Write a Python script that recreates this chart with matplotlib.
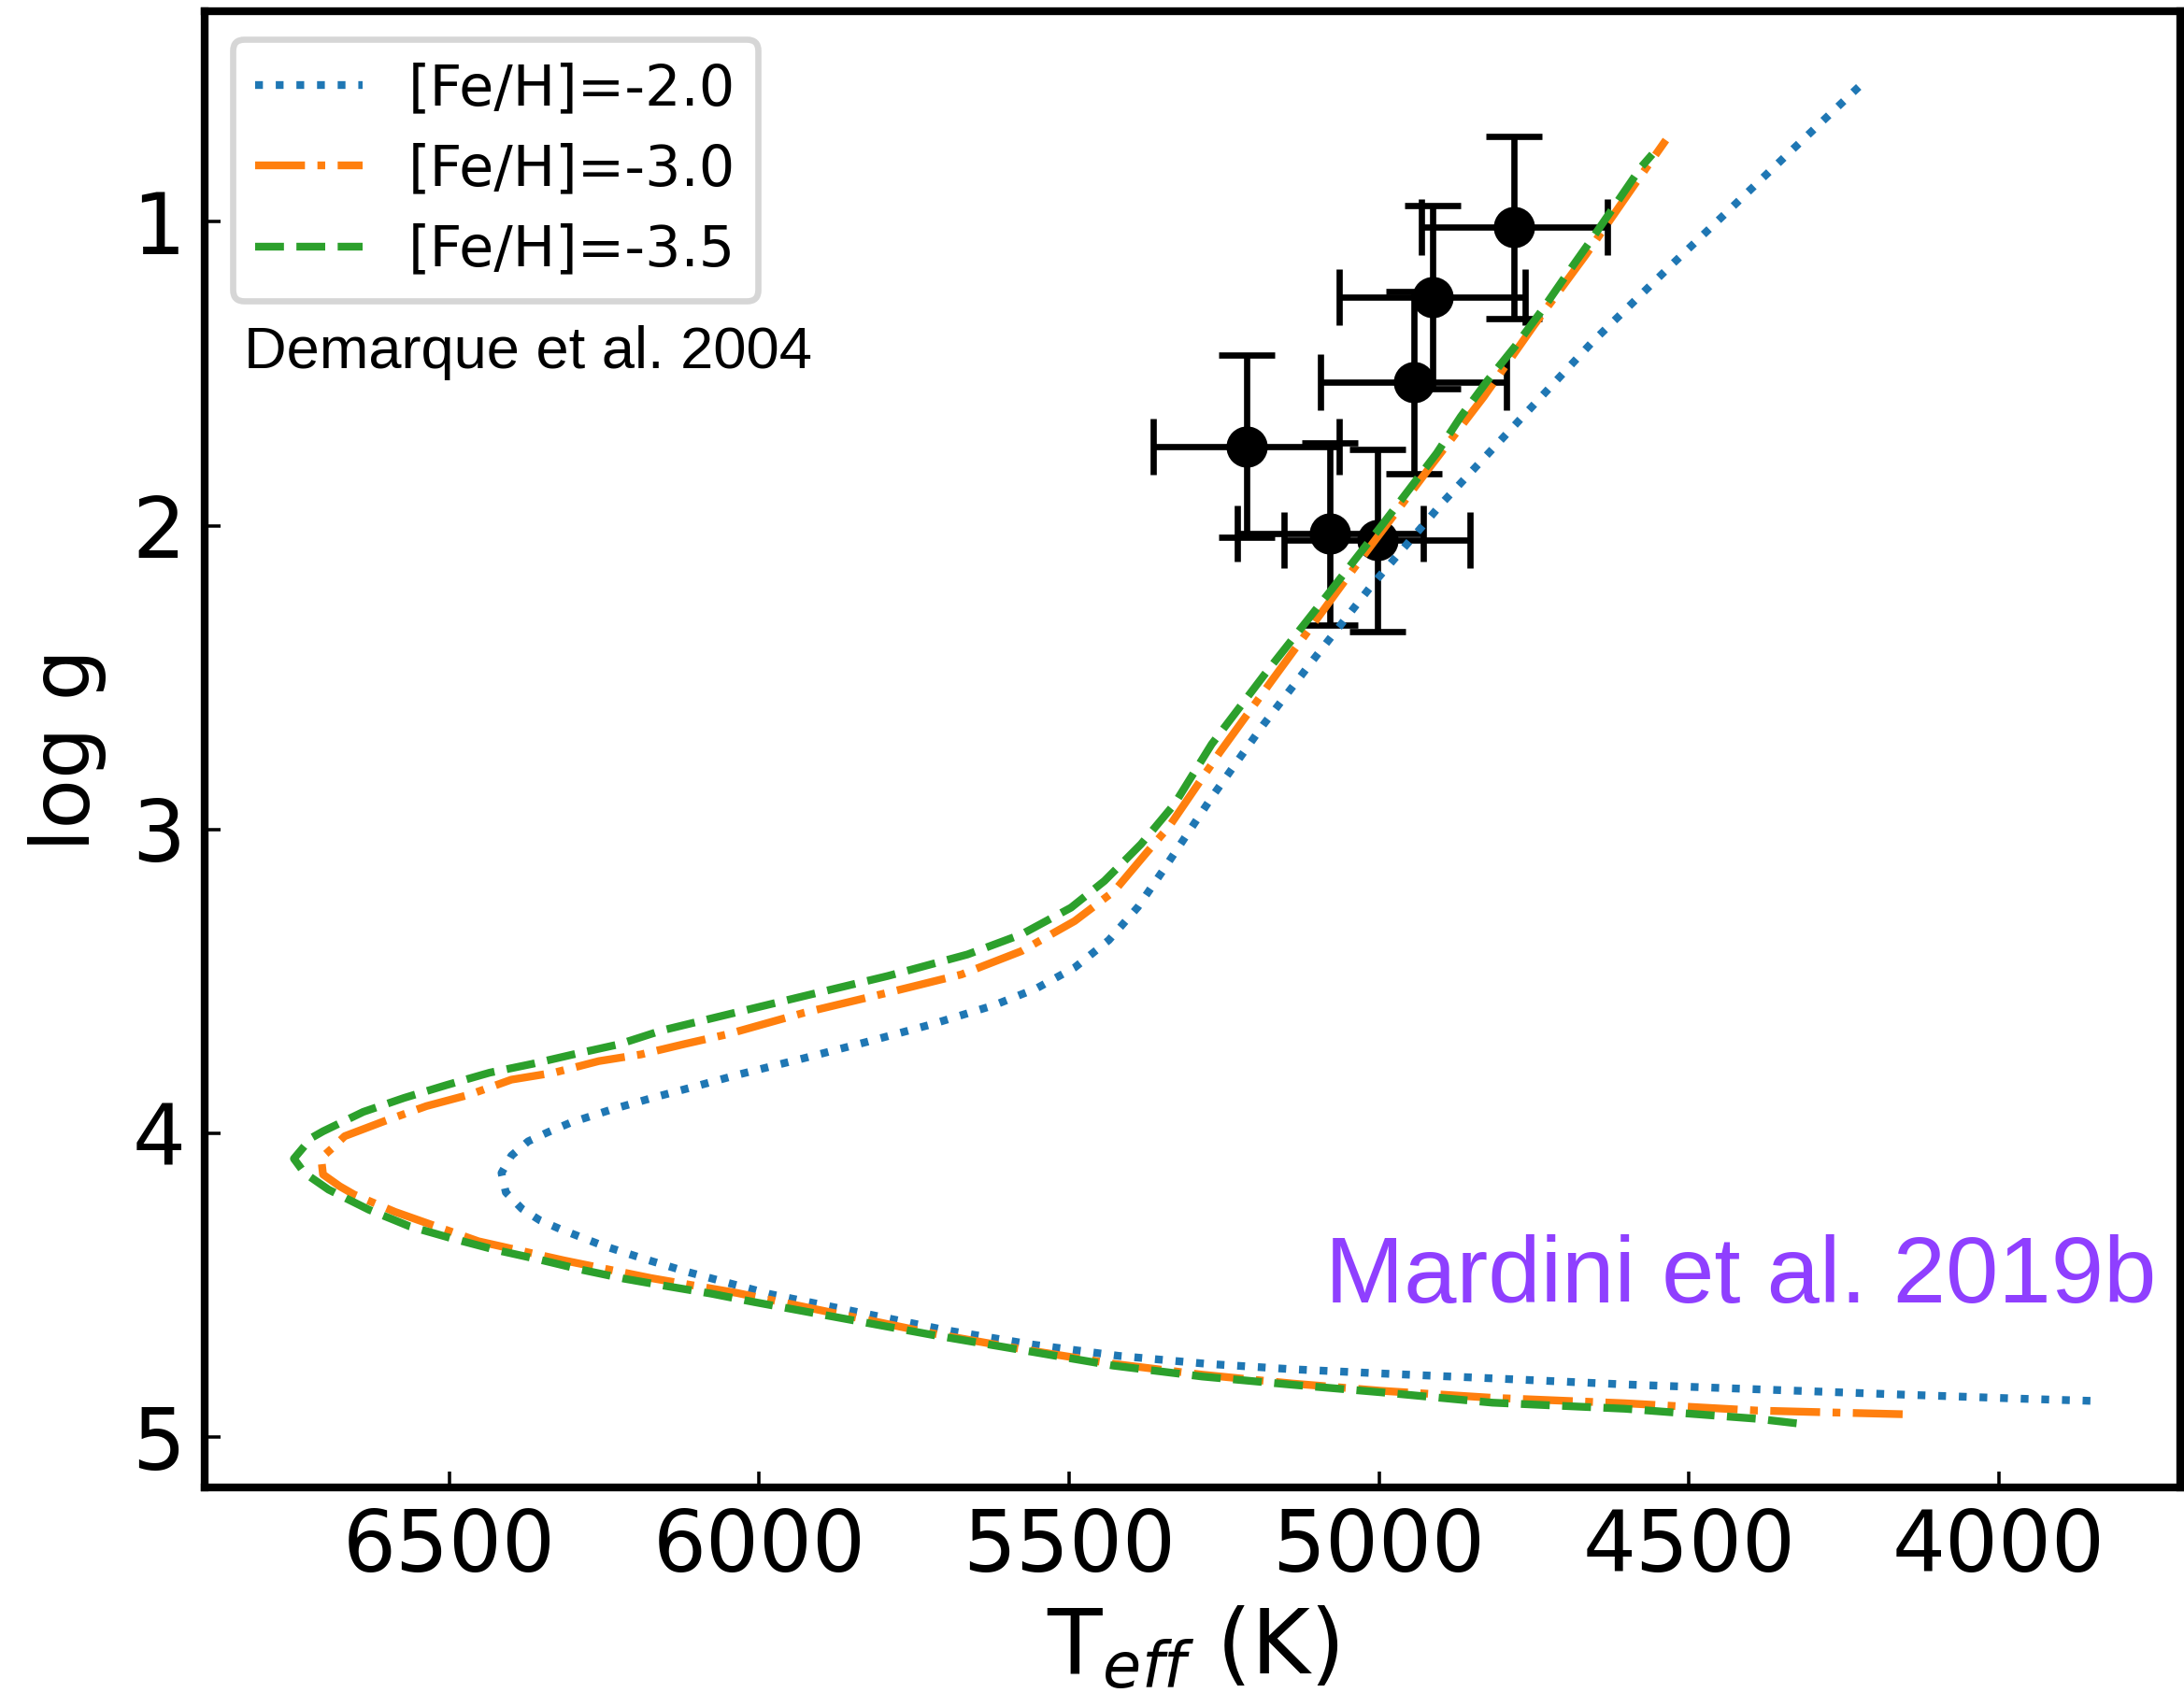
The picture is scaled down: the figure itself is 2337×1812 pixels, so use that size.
import matplotlib
matplotlib.use("Agg")
import matplotlib.pyplot as plt

# ---- isochrone data (Demarque et al. 2004) ----
teff_m20 = [3852, 3963, 4176, 4390, 4603, 4817, 4996, 5140, 5279, 5420, 5562, 5700,
            5982, 6050, 6119, 6187, 6254, 6321, 6354, 6383, 6409, 6416, 6400, 6373,
            6340, 6305, 6238, 6169, 6101, 6033, 5929, 5825, 5722, 5621, 5553, 5491,
            5436, 5389, 5349, 5270, 5187, 5101, 5012, 4897, 4655, 4527, 4476, 4346, 4217]
logg_m20 = [4.880, 4.873, 4.858, 4.842, 4.826, 4.806, 4.790, 4.776, 4.758, 4.732, 4.694, 4.647,
            4.529, 4.492, 4.454, 4.412, 4.368, 4.315, 4.286, 4.248, 4.194, 4.130, 4.073, 4.026,
            3.995, 3.965, 3.921, 3.881, 3.844, 3.806, 3.753, 3.698, 3.641, 3.578, 3.523, 3.454,
            3.364, 3.255, 3.136, 2.894, 2.656, 2.428, 2.197, 1.923, 1.394, 1.140, 1.041, 0.788, 0.539]

teff_m30 = [4155, 4390, 4603, 4817, 4996, 5140, 5285, 5429, 5573, 5718, 6036, 6175,
            6315, 6453, 6588, 6654, 6677, 6704, 6707, 6690, 6669, 6603, 6537, 6467,
            6400, 6331, 6259, 6191, 6119, 6052, 5928, 5793, 5674, 5577, 5491, 5427,
            5375, 5338, 5257, 5173, 5041, 4917, 4831, 4750, 4666, 4585, 4537]
logg_m30 = [4.924, 4.912, 4.888, 4.870, 4.847, 4.823, 4.794, 4.758, 4.711, 4.659, 4.525, 4.476,
            4.418, 4.355, 4.258, 4.201, 4.174, 4.135, 4.081, 4.050, 4.009, 3.958, 3.910, 3.872,
            3.823, 3.800, 3.762, 3.740, 3.705, 3.674, 3.603, 3.537, 3.477, 3.400, 3.301, 3.202,
            3.076, 2.988, 2.746, 2.510, 2.142, 1.805, 1.576, 1.341, 1.108, 0.870, 0.731]

teff_m35 = [4326, 4390, 4603, 4817, 4996, 5140, 5285, 5429, 5573, 5718, 6008, 6078,
            6148, 6218, 6288, 6355, 6426, 6495, 6564, 6630, 6695, 6734, 6751, 6723,
            6704, 6639, 6573, 6505, 6435, 6366, 6296, 6227, 6157, 6062, 5928, 5793,
            5664, 5577, 5497, 5443, 5384, 5330, 5270, 5184, 5081, 4994, 4907, 4868,
            4825, 4780, 4738, 4698, 4657, 4577, 4559]
logg_m35 = [4.954, 4.939, 4.906, 4.886, 4.852, 4.827, 4.800, 4.764, 4.714, 4.664, 4.555, 4.527,
            4.503, 4.478, 4.448, 4.415, 4.383, 4.346, 4.306, 4.251, 4.185, 4.130, 4.083, 4.015,
            3.993, 3.929, 3.883, 3.841, 3.800, 3.771, 3.738, 3.707, 3.661, 3.614, 3.548, 3.482,
            3.411, 3.345, 3.257, 3.169, 3.048, 2.916, 2.719, 2.488, 2.222, 1.995, 1.762, 1.641,
            1.523, 1.409, 1.294, 1.176, 1.058, 0.820, 0.778]

# ---- stars (Mardini et al. 2019b) ----
star_teff = [4782, 4914, 4944, 5214, 5079, 5003]
star_logg = [1.018, 1.248, 1.528, 1.739, 2.027, 2.048]
star_teff_err = [150, 150, 150, 150, 150, 150]
star_logg_err = [0.30, 0.30, 0.30, 0.30, 0.30, 0.30]

labels = ["[Fe/H]=-2.0", "[Fe/H]=-3.0", "[Fe/H]=-3.5"]

plt.rcParams['font.family'] = ['DejaVu Sans']
plt.rcParams['mathtext.fontset'] = 'dejavusans'

W, H = 2337, 1812
DPI = 300
fig = plt.figure(figsize=(W / DPI, H / DPI), dpi=DPI)
ax = fig.add_axes([219 / W, 1 - 1592 / H, (2333 - 219) / W, (1592 - 12) / H])

ax.errorbar(star_teff, star_logg, xerr=star_teff_err, yerr=star_logg_err,
            fmt='o', color='black', ms=9.6, elinewidth=1.6, capsize=7.1,
            capthick=1.6, zorder=2)

ax.plot(teff_m20, logg_m20, ':', color='#1f77b4', lw=2, label=labels[0], zorder=3)
ax.plot(teff_m30, logg_m30, '-.', color='#ff7f0e', lw=2, label=labels[1], zorder=3)
ax.plot(teff_m35, logg_m35, '--', color='#2ca02c', lw=2, label=labels[2], zorder=3)

ax.set_xlim(6895, 3707)
ax.set_ylim(5.165, 0.307)
ax.set_xticks([6500, 6000, 5500, 5000, 4500, 4000])
ax.set_yticks([1, 2, 3, 4, 5])

for sp in ax.spines.values():
    sp.set_linewidth(2)
ax.tick_params(direction='in', top=False, right=False, length=4, width=0.85,
               labelsize=21.5, pad=5)

ax.set_xlabel(r'T$_{eff}$ (K)', fontsize=23, labelpad=4)
ax.set_ylabel('log g', fontsize=21, labelpad=6.6)

leg = ax.legend(loc='upper left', fontsize=14.5, handlelength=1.9,
                handletextpad=0.8, labelspacing=0.45)
leg.get_frame().set_linewidth(1.6)

ax.text(0.0199, 0.7585, 'Demarque et al. 2004', transform=ax.transAxes,
        fontsize=15.2, family='Liberation Sans', ha='left', va='baseline')
ax.text(0.9877, 0.1253, 'Mardini et al. 2019b', transform=ax.transAxes,
        fontsize=24.3, family='Liberation Sans', color='#8f3fff',
        ha='right', va='baseline')

fig.savefig('out.png', dpi=DPI)
